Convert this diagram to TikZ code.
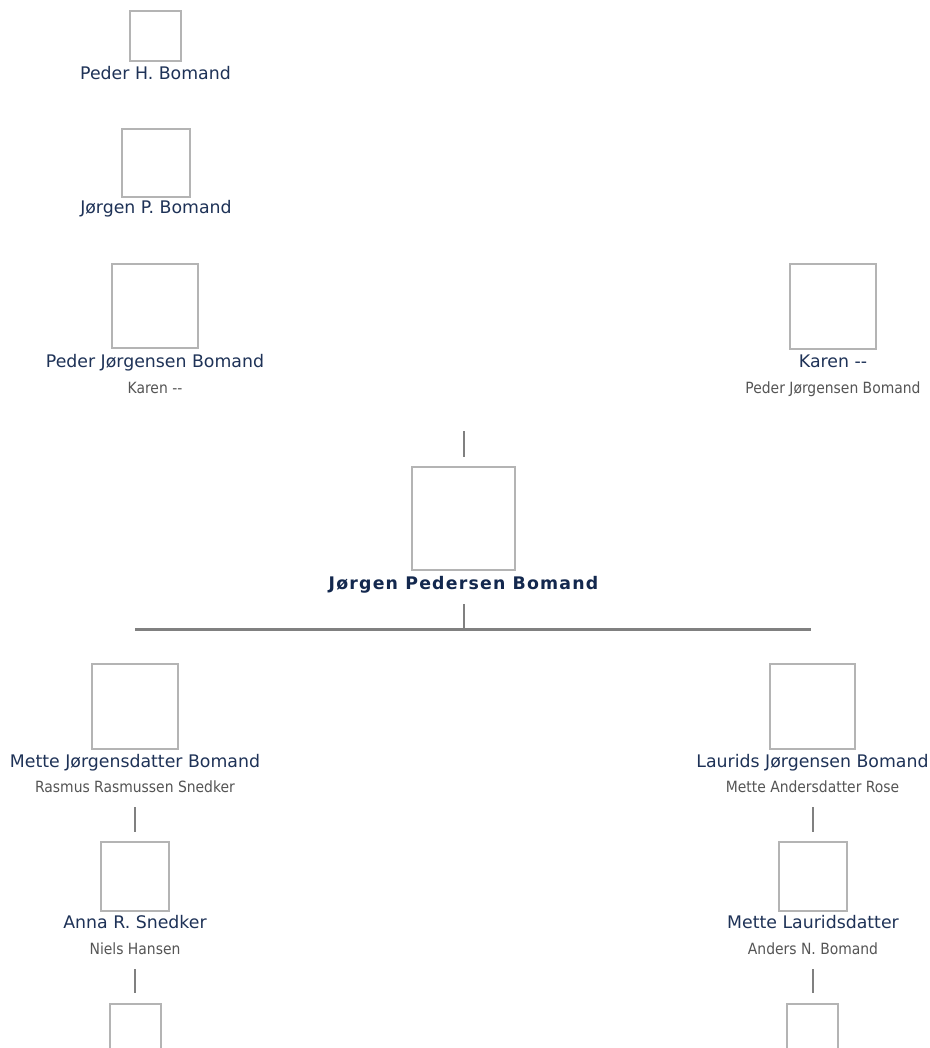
\documentclass[tikz,border=0pt]{standalone}
\usepackage{fontspec}
\setmainfont{DejaVu Sans}
\newfontfamily\spousefont{DejaVu Sans Condensed}
\newfontfamily\mainfont[LetterSpace=7]{DejaVu Sans Bold}
\definecolor{namecol}{HTML}{1E3257}
\definecolor{maincol}{HTML}{13284E}
\definecolor{spousecol}{HTML}{555555}
\definecolor{boxcol}{HTML}{B4B4B4}
\definecolor{linecol}{HTML}{808080}
\begin{document}
\begin{tikzpicture}[
    x=0.75pt, y=-0.75pt,
    photobox/.style={
        rectangle,
        draw=boxcol,
        line width=1.1pt,
        fill=white,
        inner sep=0pt
    },
    personname/.style={
        anchor=base,
        inner sep=0pt,
        text=namecol,
        font=\fontsize{13}{15}\selectfont
    },
    mainname/.style={
        personname,
        text=maincol,
        font=\mainfont\fontsize{13}{15}\selectfont
    },
    spousename/.style={
        anchor=base,
        inner sep=0pt,
        text=spousecol,
        font=\spousefont\fontsize{11.6}{13}\selectfont
    },
    link/.style={
        draw=linecol,
        line width=2pt
    }
]
\clip (0,0) rectangle (930,1048);
\fill[white] (0,0) rectangle (930,1048);

% 상자
\node[photobox, minimum width=51*0.75pt, minimum height=50*0.75pt] (ph) at (155.5,36) {};
\node[photobox, minimum width=68*0.75pt, minimum height=68*0.75pt] (jp) at (156,163) {};
\node[photobox, minimum width=86*0.75pt, minimum height=84*0.75pt] (pj) at (155,306) {};
\node[photobox, minimum width=86*0.75pt, minimum height=85*0.75pt] (ka) at (833,306.5) {};
\node[photobox, minimum width=103*0.75pt, minimum height=103*0.75pt] (jpb) at (463.5,518.5) {};
\node[photobox, minimum width=86*0.75pt, minimum height=85*0.75pt] (me) at (135,706.5) {};
\node[photobox, minimum width=85*0.75pt, minimum height=85*0.75pt] (la) at (812.5,706.5) {};
\node[photobox, minimum width=68*0.75pt, minimum height=69*0.75pt] (an) at (135,876.5) {};
\node[photobox, minimum width=68*0.75pt, minimum height=69*0.75pt] (ml) at (813,876.5) {};
\node[photobox, minimum width=51*0.75pt, minimum height=51*0.75pt] (bl) at (135.5,1029.5) {};
\node[photobox, minimum width=51*0.75pt, minimum height=51*0.75pt] (br) at (812.5,1029.5) {};

% 이름
\node[personname] (ph-n) at (155.5,80) {Peder H. Bomand};
\node[personname] (jp-n) at (156,214) {Jørgen P. Bomand};
\node[personname] (pj-n) at (155,367) {Peder Jørgensen Bomand};
\node[spousename] (pj-s) at (155,393) {Karen -{}-};
\node[personname] (ka-n) at (833,367) {Karen -{}-};
\node[spousename] (ka-s) at (833,393) {Peder Jørgensen Bomand};
\node[mainname] (jpb-n) at (463.5,589) {Jørgen Pedersen Bomand};
\node[personname] (me-n) at (135,767) {Mette Jørgensdatter Bomand};
\node[spousename] (me-s) at (135,792) {Rasmus Rasmussen Snedker};
\node[personname] (la-n) at (812.5,767) {Laurids Jørgensen Bomand};
\node[spousename] (la-s) at (812.5,792) {Mette Andersdatter Rose};
\node[personname] (an-n) at (135,928) {Anna R. Snedker};
\node[spousename] (an-s) at (135,954) {Niels Hansen};
\node[personname] (ml-n) at (813,928) {Mette Lauridsdatter};
\node[spousename] (ml-s) at (813,954) {Anders N. Bomand};

% 선
\coordinate (up-a) at (464,431);
\coordinate (up-b) at (464,457);
\coordinate (dn-a) at (464,604);
\coordinate (bar) at (464,629.5);
\coordinate (bar-l) at (135,629.5);
\coordinate (bar-r) at (811,629.5);
\coordinate (me-a) at (135,807);
\coordinate (me-b) at (135,832);
\coordinate (an-a) at (135,969);
\coordinate (an-b) at (135,993);
\coordinate (la-a) at (813,807);
\coordinate (la-b) at (813,832);
\coordinate (ml-a) at (813,969);
\coordinate (ml-b) at (813,993);

\draw[link] (up-a) -- (up-b);
\draw[link] (dn-a) -- (bar);
\draw[link] (bar-l) -- (bar-r);
\draw[link] (me-a) -- (me-b);
\draw[link] (an-a) -- (an-b);
\draw[link] (la-a) -- (la-b);
\draw[link] (ml-a) -- (ml-b);

\end{tikzpicture}
\end{document}
